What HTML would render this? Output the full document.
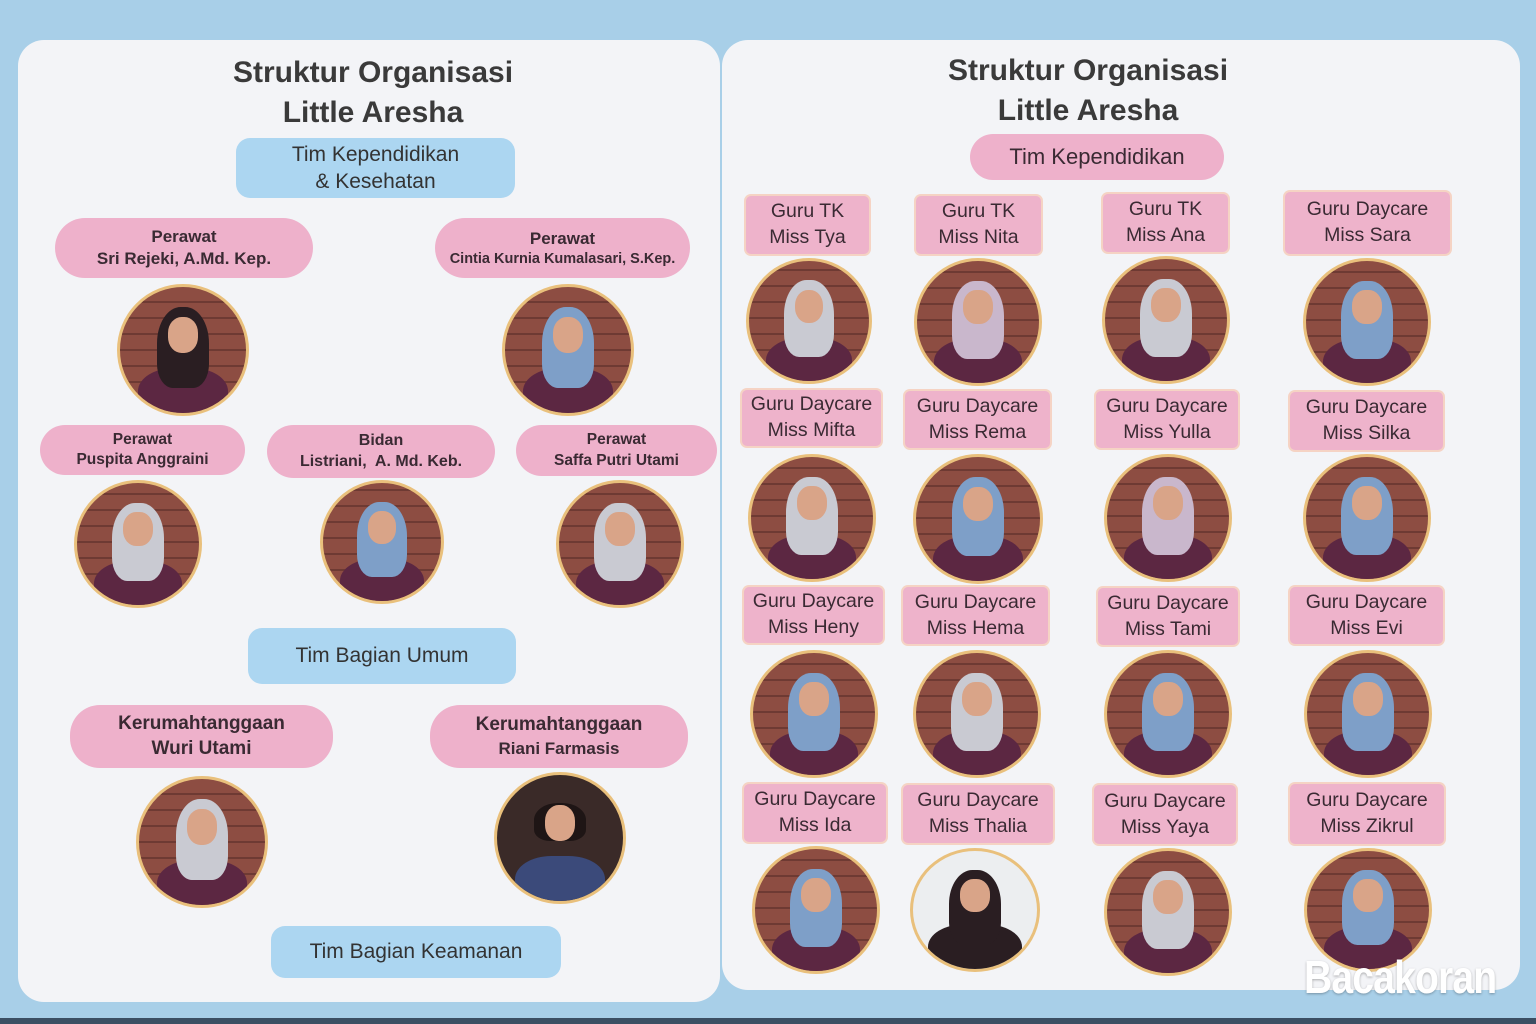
<!DOCTYPE html>
<html><head><meta charset="utf-8">
<style>
*{margin:0;padding:0;box-sizing:border-box}
body{width:1536px;height:1024px;overflow:hidden;background:#a8cfe8;font-family:"Liberation Sans",sans-serif;position:relative;color:#3a2a33}
.panel{position:absolute;background:#f3f4f7;border-radius:26px}
.t{position:absolute;text-align:center;font-weight:bold;color:#3a3a3a;font-size:30px;line-height:40px}
.lb{position:absolute;display:flex;flex-direction:column;justify-content:center;align-items:center;text-align:center;line-height:1.3}
.pk{background:#eeb1cb;border-radius:30px;font-weight:bold;font-size:17px}
.bl{background:#acd6f1;border-radius:14px;font-size:21px;color:#333}
.rk{background:#eeb3cb;border-radius:5px;font-size:19.5px;box-shadow:0 0 0 2px #f5d3c4;color:#3a2a33;line-height:1.32}
.ph{position:absolute;border-radius:50%;overflow:hidden;border:3px solid #e9c07c;background:
repeating-linear-gradient(0deg,#8d4d42 0 14px,#6e3a33 14px 16px);}
.ph i{position:absolute;display:block}
.ph .b{left:14%;right:14%;bottom:-10%;height:46%;background:#5c2742;border-radius:40% 40% 0 0}
.ph .h{left:29%;right:29%;top:16%;height:64%;border-radius:45% 45% 30% 30%;background:#7e9fc8}
.ph .f{left:38%;right:38%;top:24%;height:28%;border-radius:45%;background:#d9a488}
.g .h{background:#c9cad2}.l .h{background:#c9b7cc}.k .h{background:#2a1e22}
</style></head><body>
<div class="panel" style="left:18px;top:40px;width:702px;height:962px"></div>
<div class="panel" style="left:722px;top:40px;width:798px;height:950px"></div>

<div class="t" style="left:173px;top:53px;width:400px">Struktur Organisasi<br>Little Aresha</div>
<div class="lb bl" style="left:236px;top:138px;width:279px;height:60px">Tim Kependidikan<br>&amp; Kesehatan</div>

<div class="lb pk" style="left:55px;top:218px;width:258px;height:60px">Perawat<br>Sri Rejeki, A.Md. Kep.</div>
<div class="lb pk" style="left:435px;top:218px;width:255px;height:60px"><span>Perawat</span><span style="font-size:14.5px">Cintia Kurnia Kumalasari, S.Kep.</span></div>
<div class="ph k" style="left:117px;top:284px;width:132px;height:132px"><i class="b"></i><i class="h"></i><i class="f"></i></div>
<div class="ph" style="left:502px;top:284px;width:132px;height:132px"><i class="b"></i><i class="h"></i><i class="f"></i></div>

<div class="lb pk" style="left:40px;top:425px;width:205px;height:50px;font-size:15.5px">Perawat<br>Puspita Anggraini</div>
<div class="lb pk" style="left:267px;top:425px;width:228px;height:53px;font-size:16px">Bidan<br>Listriani,&nbsp; A. Md. Keb.</div>
<div class="lb pk" style="left:516px;top:425px;width:201px;height:51px;font-size:15.5px">Perawat<br>Saffa Putri Utami</div>
<div class="ph g" style="left:74px;top:480px;width:128px;height:128px"><i class="b"></i><i class="h"></i><i class="f"></i></div>
<div class="ph" style="left:320px;top:480px;width:124px;height:124px"><i class="b"></i><i class="h"></i><i class="f"></i></div>
<div class="ph g" style="left:556px;top:480px;width:128px;height:128px"><i class="b"></i><i class="h"></i><i class="f"></i></div>

<div class="lb bl" style="left:248px;top:628px;width:268px;height:56px">Tim Bagian Umum</div>
<div class="lb pk" style="left:70px;top:705px;width:263px;height:63px;font-size:19px">Kerumahtanggaan<br>Wuri Utami</div>
<div class="lb pk" style="left:430px;top:705px;width:258px;height:63px;font-size:19px"><span>Kerumahtanggaan</span><span style="font-size:17px">Riani Farmasis</span></div>
<div class="ph g" style="left:136px;top:776px;width:132px;height:132px"><i class="b"></i><i class="h"></i><i class="f"></i></div>
<div class="ph k" style="left:494px;top:772px;width:132px;height:132px;background:#3a2a28"><i class="b" style="background:#3b4a7a"></i><i class="h" style="top:22%;height:30%;background:#1e1515"></i><i class="f"></i></div>
<div class="lb bl" style="left:271px;top:926px;width:290px;height:52px">Tim Bagian Keamanan</div>

<div class="t" style="left:888px;top:51px;width:400px">Struktur Organisasi<br>Little Aresha</div>
<div class="lb pk" style="left:970px;top:134px;width:254px;height:46px;font-weight:normal;font-size:22px">Tim Kependidikan</div>

<div class="lb rk" style="left:746px;top:196px;width:123px;height:58px">Guru TK<br>Miss Tya</div>
<div class="lb rk" style="left:916px;top:196px;width:125px;height:58px">Guru TK<br>Miss Nita</div>
<div class="lb rk" style="left:1103px;top:194px;width:125px;height:58px">Guru TK<br>Miss Ana</div>
<div class="lb rk" style="left:1285px;top:192px;width:165px;height:62px">Guru Daycare<br>Miss Sara</div>
<div class="ph g" style="left:746px;top:258px;width:126px;height:126px"><i class="b"></i><i class="h"></i><i class="f"></i></div>
<div class="ph l" style="left:914px;top:258px;width:128px;height:128px"><i class="b"></i><i class="h"></i><i class="f"></i></div>
<div class="ph g" style="left:1102px;top:256px;width:128px;height:128px"><i class="b"></i><i class="h"></i><i class="f"></i></div>
<div class="ph" style="left:1303px;top:258px;width:128px;height:128px"><i class="b"></i><i class="h"></i><i class="f"></i></div>

<div class="lb rk" style="left:742px;top:390px;width:139px;height:56px">Guru Daycare<br>Miss Mifta</div>
<div class="lb rk" style="left:905px;top:391px;width:145px;height:57px">Guru Daycare<br>Miss Rema</div>
<div class="lb rk" style="left:1096px;top:391px;width:142px;height:57px">Guru Daycare<br>Miss Yulla</div>
<div class="lb rk" style="left:1290px;top:392px;width:153px;height:58px">Guru Daycare<br>Miss Silka</div>
<div class="ph g" style="left:748px;top:454px;width:128px;height:128px"><i class="b"></i><i class="h"></i><i class="f"></i></div>
<div class="ph" style="left:913px;top:454px;width:130px;height:130px"><i class="b"></i><i class="h"></i><i class="f"></i></div>
<div class="ph l" style="left:1104px;top:454px;width:128px;height:128px"><i class="b"></i><i class="h"></i><i class="f"></i></div>
<div class="ph" style="left:1303px;top:454px;width:128px;height:128px"><i class="b"></i><i class="h"></i><i class="f"></i></div>

<div class="lb rk" style="left:744px;top:587px;width:139px;height:56px">Guru Daycare<br>Miss Heny</div>
<div class="lb rk" style="left:903px;top:587px;width:145px;height:57px">Guru Daycare<br>Miss Hema</div>
<div class="lb rk" style="left:1098px;top:588px;width:140px;height:57px">Guru Daycare<br>Miss Tami</div>
<div class="lb rk" style="left:1290px;top:587px;width:153px;height:57px">Guru Daycare<br>Miss Evi</div>
<div class="ph" style="left:750px;top:650px;width:128px;height:128px"><i class="b"></i><i class="h"></i><i class="f"></i></div>
<div class="ph g" style="left:913px;top:650px;width:128px;height:128px"><i class="b"></i><i class="h"></i><i class="f"></i></div>
<div class="ph" style="left:1104px;top:650px;width:128px;height:128px"><i class="b"></i><i class="h"></i><i class="f"></i></div>
<div class="ph" style="left:1304px;top:650px;width:128px;height:128px"><i class="b"></i><i class="h"></i><i class="f"></i></div>

<div class="lb rk" style="left:744px;top:784px;width:142px;height:58px">Guru Daycare<br>Miss Ida</div>
<div class="lb rk" style="left:903px;top:785px;width:150px;height:58px">Guru Daycare<br>Miss Thalia</div>
<div class="lb rk" style="left:1094px;top:785px;width:142px;height:59px">Guru Daycare<br>Miss Yaya</div>
<div class="lb rk" style="left:1290px;top:784px;width:154px;height:60px">Guru Daycare<br>Miss Zikrul</div>
<div class="ph" style="left:752px;top:846px;width:128px;height:128px"><i class="b"></i><i class="h"></i><i class="f"></i></div>
<div class="ph k" style="left:910px;top:848px;width:130px;height:124px;background:#eceef0"><i class="b" style="background:#2a1e22;left:12%;right:12%;height:48%"></i><i class="h"></i><i class="f"></i></div>
<div class="ph g" style="left:1104px;top:848px;width:128px;height:128px"><i class="b"></i><i class="h"></i><i class="f"></i></div>
<div class="ph" style="left:1304px;top:848px;width:128px;height:124px"><i class="b"></i><i class="h"></i><i class="f"></i></div>

<div style="position:absolute;left:1304px;top:950px;width:240px;font-size:46px;font-weight:bold;color:#fff;letter-spacing:-1px;transform:scaleX(0.85);transform-origin:left;text-shadow:0 1px 3px rgba(0,0,0,.3);white-space:nowrap">Bacakoran</div>
<div style="position:absolute;left:0;top:1018px;width:1536px;height:6px;background:#3b4f63"></div>
</body></html>
